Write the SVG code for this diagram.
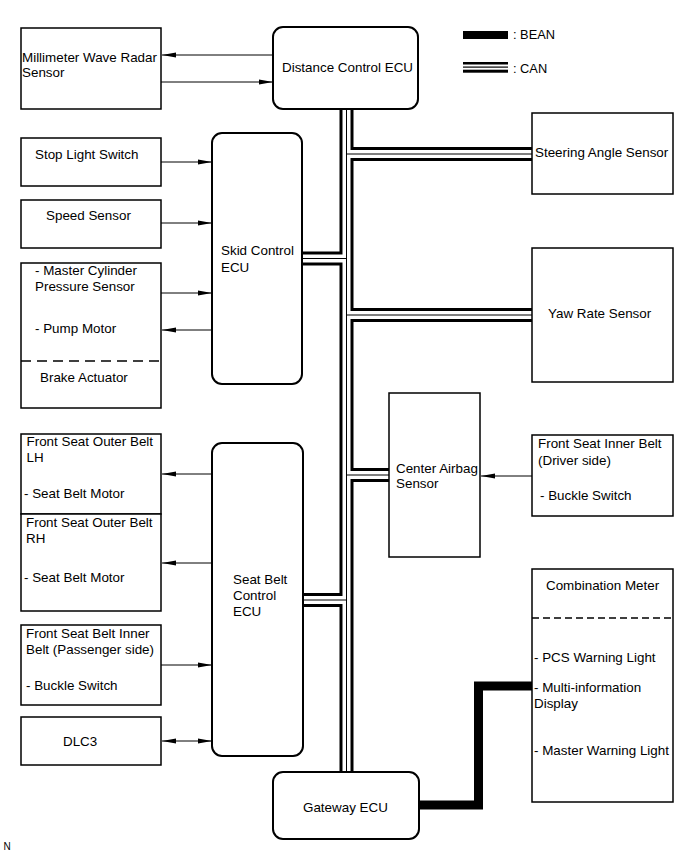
<svg xmlns="http://www.w3.org/2000/svg" width="690" height="855" viewBox="0 0 690 855">
<style>
text{font-family:"Liberation Sans",Arial,sans-serif;font-size:13.4px;fill:#000}
.box{fill:#fff;stroke:#000;stroke-width:1.5}
.ecu{fill:#fff;stroke:#000;stroke-width:2}
.dash{stroke:#000;stroke-width:1.3;fill:none}
.arr{stroke:#000;stroke-width:1;fill:none}
.can-o{stroke:#000;stroke-width:14;fill:none}
.can-w{stroke:#fff;stroke-width:8;fill:none}
.can-i{stroke:#000;stroke-width:1;fill:none}
.bean{stroke:#000;stroke-width:9;fill:none;stroke-linejoin:miter}
</style>
<defs>
<marker id="ah" markerUnits="userSpaceOnUse" markerWidth="14" markerHeight="6" viewBox="0 0 14 6" refX="14" refY="3" orient="auto-start-reverse">
<path d="M0,0.4 L14,3 L0,5.6 Z" fill="#000"/>
</marker>
<path id="c-trunk" d="M346.5,109 V772"/>
<path id="c-steer" d="M346.5,154 H532"/>
<path id="c-skid" d="M303,258.5 H346.5"/>
<path id="c-yaw" d="M346.5,315 H532"/>
<path id="c-airbag" d="M346.5,475 H389"/>
<path id="c-seat" d="M303,600 H346.5"/>
</defs>
<rect width="690" height="855" fill="#fff"/>

<g id="connectors">
<g class="can-o">
<use href="#c-trunk"/><use href="#c-steer"/><use href="#c-skid"/><use href="#c-yaw"/><use href="#c-airbag"/><use href="#c-seat"/>
</g>
<g class="can-w">
<use href="#c-trunk"/><use href="#c-steer"/><use href="#c-skid"/><use href="#c-yaw"/><use href="#c-airbag"/><use href="#c-seat"/>
</g>
<g class="can-i">
<use href="#c-trunk"/><use href="#c-steer"/><use href="#c-skid"/><use href="#c-yaw"/><use href="#c-airbag"/><use href="#c-seat"/>
</g>
<path class="bean" d="M419,805 H478.5 V686 H532"/>
<line class="arr" x1="273" y1="55" x2="162" y2="55" marker-end="url(#ah)"/>
<line class="arr" x1="161" y1="82" x2="273" y2="82" marker-end="url(#ah)"/>
<line class="arr" x1="161" y1="162" x2="212" y2="162" marker-end="url(#ah)"/>
<line class="arr" x1="161" y1="223" x2="212" y2="223" marker-end="url(#ah)"/>
<line class="arr" x1="161" y1="293" x2="212" y2="293" marker-end="url(#ah)"/>
<line class="arr" x1="212" y1="330" x2="162" y2="330" marker-end="url(#ah)"/>
<line class="arr" x1="212" y1="474" x2="162" y2="474" marker-end="url(#ah)"/>
<line class="arr" x1="212" y1="563" x2="162" y2="563" marker-end="url(#ah)"/>
<line class="arr" x1="161" y1="665" x2="212" y2="665" marker-end="url(#ah)"/>
<line class="arr" x1="162" y1="741" x2="212" y2="741" marker-start="url(#ah)" marker-end="url(#ah)"/>
<line class="arr" x1="532" y1="476" x2="481" y2="476" marker-end="url(#ah)"/>
</g>

<g id="legend">
<rect x="463" y="31" width="45" height="8" fill="#000"/>
<text x="513" y="39" style="font-size:12.8px">: BEAN</text>
<rect x="463" y="62" width="45" height="2.5" fill="#000"/>
<rect x="463" y="66.5" width="45" height="1.2" fill="#000"/>
<rect x="463" y="69.7" width="45" height="3" fill="#000"/>
<text x="513" y="72.5" style="font-size:12.8px">: CAN</text>
</g>

<g id="distance-ecu">
<rect class="ecu" x="273" y="27" width="145" height="82" rx="10"/>
<text x="282" y="72">Distance Control ECU</text>
</g>
<g id="radar">
<rect class="box" x="21" y="28" width="140" height="81"/>
<text x="22" y="61.5">Millimeter Wave Radar</text>
<text x="22" y="77">Sensor</text>
</g>
<g id="stop-light">
<rect class="box" x="21" y="138" width="140" height="48"/>
<text x="35" y="159">Stop Light Switch</text>
</g>
<g id="speed-sensor">
<rect class="box" x="21" y="200" width="140" height="48"/>
<text x="46" y="220">Speed Sensor</text>
</g>
<g id="brake-actuator">
<rect class="box" x="21" y="263" width="140" height="145"/>
<line class="dash" x1="21" y1="361" x2="161" y2="361" stroke-dasharray="10 6"/>
<text x="35" y="275">- Master Cylinder</text>
<text x="35" y="290.5">Pressure Sensor</text>
<text x="35" y="332.5">- Pump Motor</text>
<text x="40" y="381.5">Brake Actuator</text>
</g>
<g id="skid-ecu">
<rect class="ecu" x="212" y="133" width="90" height="251" rx="10"/>
<text x="221" y="255">Skid Control</text>
<text x="221" y="271.5">ECU</text>
</g>
<g id="outer-belt-lh">
<rect class="box" x="21" y="434" width="140" height="80"/>
<text x="26.5" y="446">Front Seat Outer Belt</text>
<text x="26.5" y="462">LH</text>
<text x="24" y="498">- Seat Belt Motor</text>
</g>
<g id="outer-belt-rh">
<rect class="box" x="21" y="514" width="140" height="97"/>
<text x="26" y="527">Front Seat Outer Belt</text>
<text x="26" y="543">RH</text>
<text x="24" y="581.5">- Seat Belt Motor</text>
</g>
<g id="inner-belt-passenger">
<rect class="box" x="21" y="625" width="140" height="80"/>
<text x="26" y="638">Front Seat Belt Inner</text>
<text x="26" y="654">Belt (Passenger side)</text>
<text x="26" y="690">- Buckle Switch</text>
</g>
<g id="dlc3">
<rect class="box" x="21" y="717" width="140" height="48"/>
<text x="63" y="746">DLC3</text>
</g>
<g id="seat-belt-ecu">
<rect class="ecu" x="212" y="443" width="91" height="313" rx="10"/>
<text x="233" y="584">Seat Belt</text>
<text x="233" y="600">Control</text>
<text x="233" y="616">ECU</text>
</g>
<g id="gateway-ecu">
<rect class="ecu" x="273" y="772" width="146" height="67" rx="10"/>
<text x="303" y="811.5">Gateway ECU</text>
</g>
<g id="steering-sensor">
<rect class="box" x="532" y="113" width="141" height="81"/>
<text x="535" y="157">Steering Angle Sensor</text>
</g>
<g id="yaw-sensor">
<rect class="box" x="532" y="248" width="141" height="134"/>
<text x="548" y="318">Yaw Rate Sensor</text>
</g>
<g id="airbag-sensor">
<rect class="box" x="389" y="393" width="91" height="164"/>
<text x="396" y="472.5">Center Airbag</text>
<text x="396" y="487.5">Sensor</text>
</g>
<g id="inner-belt-driver">
<rect class="box" x="532" y="435" width="141" height="81"/>
<text x="538" y="448">Front Seat Inner Belt</text>
<text x="538" y="465">(Driver side)</text>
<text x="540" y="500">- Buckle Switch</text>
</g>
<g id="combination-meter">
<rect class="box" x="532" y="569" width="141" height="233"/>
<line class="dash" x1="532" y1="618" x2="673" y2="618" stroke-dasharray="7 4"/>
<text x="546" y="590">Combination Meter</text>
<text x="534" y="661.5">- PCS Warning Light</text>
<text x="534" y="691.5">- Multi-information</text>
<text x="534" y="708">Display</text>
<text x="534" y="755">- Master Warning Light</text>
</g>
<text x="3.5" y="850" style="font-size:10px">N</text>
</svg>
